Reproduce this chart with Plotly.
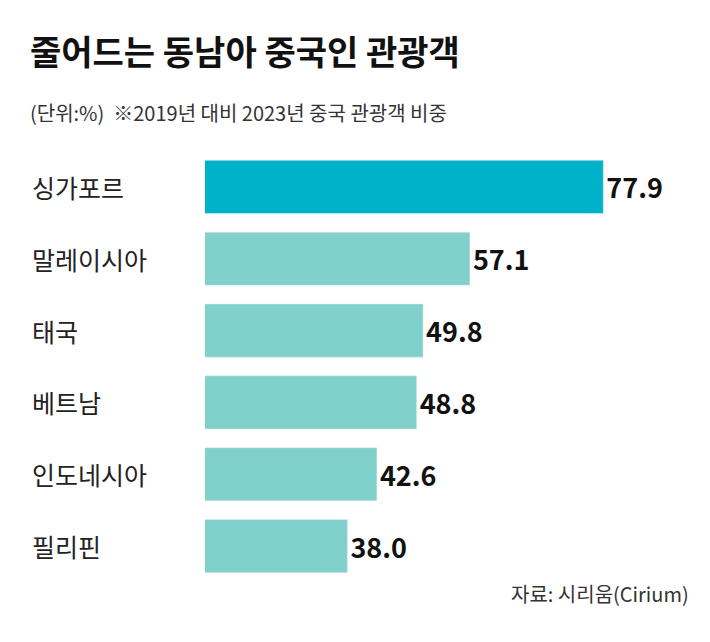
import plotly.graph_objects as go

countries = ["싱가포르", "말레이시아", "태국", "베트남", "인도네시아", "필리핀"]
values = [77.9, 57.1, 49.8, 48.8, 42.6, 38.0]
colors = ["#00b2c9"] + ["#80d0cc"] * 5

fig = go.Figure(go.Bar(
    x=values, y=countries, orientation="h", marker_color=colors,
    text=[f"{v:.1f}" for v in values], textposition="outside",
    textfont=dict(family="Noto Sans CJK KR", size=27, color="#111"),
    texttemplate="<b>%{text}</b>", cliponaxis=False,
))
for c in countries:
    fig.add_annotation(x=0, xref="paper", y=c, yref="y", xshift=-175, text=c, showarrow=False,
                       xanchor="left", font=dict(family="Noto Sans CJK KR", size=25, color="#222"))
fig.add_annotation(x=0.0, y=1.0, xref="paper", yref="paper", xshift=-177, yshift=127,
                   text="<b>줄어드는 동남아 중국인 관광객</b>", showarrow=False, xanchor="left",
                   font=dict(family="Noto Sans CJK KR", size=34, color="#111"))
fig.add_annotation(x=0.0, y=1.0, xref="paper", yref="paper", xshift=-177, yshift=55,
                   text="(단위:%)  ※2019년 대비 2023년 중국 관광객 비중", showarrow=False, xanchor="left",
                   font=dict(family="Noto Sans CJK KR", size=20, color="#333"))
fig.add_annotation(x=1.0, y=0, xref="paper", yref="paper", xshift=-22, yshift=-28,
                   text="자료: 시리움(Cirium)", showarrow=False, xanchor="right",
                   font=dict(family="Noto Sans CJK KR", size=20, color="#333"))
fig.update_layout(
    width=710, height=642, margin=dict(l=197, r=5, t=143, b=68),
    paper_bgcolor="white", plot_bgcolor="white", bargap=0.26, showlegend=False,
    xaxis=dict(range=[15.8, 95.0], visible=False),
    yaxis=dict(autorange="reversed", showticklabels=False, showgrid=False),
)
fig.write_html("out.html")
